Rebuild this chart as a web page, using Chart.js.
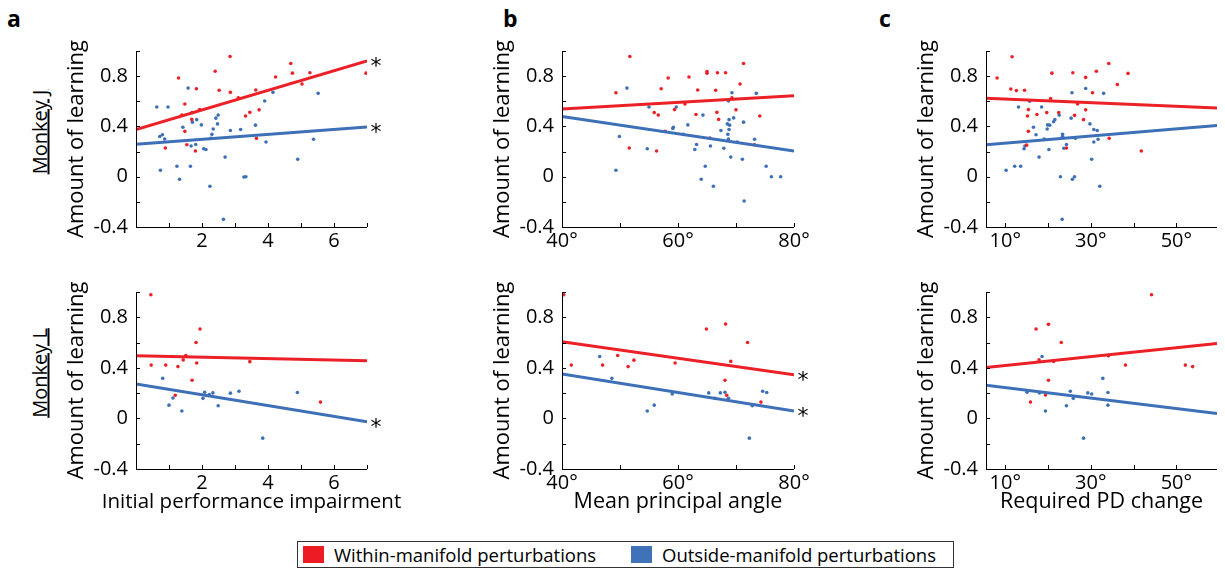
<!DOCTYPE html>
<html lang="en">
<head>
  <meta charset="UTF-8" />
  <title>Amount of learning vs. perturbation properties</title>
  <script src="https://cdn.jsdelivr.net/npm/chart.js"></script>
  <style>
    body {
      margin: 0;
      width: 1225px;
      height: 572px;
      overflow: hidden;
      background: #fff;
      position: relative;
      font-family: "Open Sans", sans-serif;
      color: #000;
    }
    canvas { position: absolute; }
    .letter {
      position: absolute;
      font: bold 23px "Open Sans", sans-serif;
      line-height: 1;
    }
    .monkey {
      position: absolute;
      font-size: 20px;
      text-decoration: underline;
      white-space: nowrap;
      transform: translate(-50%, -50%) rotate(-90deg);
    }
    #legend {
      position: absolute;
      left: 297px;
      top: 541px;
      width: 657px;
      height: 27px;
      border: 1px solid #333;
      box-sizing: border-box;
      font-size: 18.5px;
    }
    #legend span { position: absolute; }
    .sw { width: 21px; height: 17px; top: 4px; }
    .lt { top: 0px; line-height: 25px; white-space: nowrap; }
  </style>
</head>
<body>
  <div class="letter" style="left:7px; top:7px">a</div>
  <div class="letter" style="left:503px; top:7px">b</div>
  <div class="letter" style="left:879px; top:7px">c</div>
  <div class="monkey" style="left:39px; top:132px">Monkey J</div>
  <div class="monkey" style="left:39px; top:373px">Monkey L</div>

  <canvas id="aJ" width="323" height="221" style="left:64px; top:31px"></canvas>
  <canvas id="bJ" width="324" height="221" style="left:490px; top:31px"></canvas>
  <canvas id="cJ" width="311" height="221" style="left:914px; top:31px"></canvas>
  <canvas id="aL" width="353" height="242" style="left:64px; top:272px"></canvas>
  <canvas id="bL" width="324" height="242" style="left:490px; top:272px"></canvas>
  <canvas id="cL" width="311" height="242" style="left:914px; top:272px"></canvas>

  <div id="legend">
    <span class="sw" style="left:5px; background:#ed1c24"></span>
    <span class="lt" style="left:36px">Within-manifold perturbations</span>
    <span class="sw" style="left:333px; background:#3f72b8"></span>
    <span class="lt" style="left:364px">Outside-manifold perturbations</span>
  </div>

  <script>
    const RED = '#ec2027';
    const BLUE = '#3e70b7';

    // y axis shared by all panels
    const yTicks = [-0.4, -0.2, 0, 0.2, 0.4, 0.6, 0.8, 1.0];
    const yTickLabels = ['-0.4', '', '0', '', '0.4', '', '0.8', ''];

    // x axes
    const impairTicks = [0, 1, 2, 3, 4, 5, 6, 7];
    const impairLabels = ['', '', '2', '', '4', '', '6', ''];
    const angleTicks = [40, 50, 60, 70, 80];
    const angleLabels = ['40°', '', '60°', '', '80°'];
    const pdTicks = [10, 20, 30, 40, 50];
    const pdLabels = ['10°', '', '30°', '', '50°'];

    // Monkey J, initial performance impairment
    const jImpairRed = [[2.85,0.956],[1.29,0.785],[2.40,0.839],[4.69,0.90],[4.74,0.824],[4.23,0.793],[5.27,0.827],[5.03,0.737],[6.97,0.824],[1.83,0.70],[2.52,0.688],[2.86,0.671],[3.63,0.69],[3.10,0.627],[1.48,0.578],[1.93,0.534],[1.70,0.51],[1.39,0.49],[3.73,0.532],[3.45,0.512],[3.32,0.483],[1.69,0.456],[1.48,0.361],[3.65,0.305],[1.54,0.254],[0.89,0.229],[1.80,0.205]];
    const jImpairBlue = [[1.58,0.705],[0.63,0.554],[0.97,0.554],[4.15,0.671],[5.52,0.663],[3.90,0.602],[2.49,0.49],[2.42,0.466],[1.84,0.454],[1.71,0.434],[1.98,0.412],[2.47,0.42],[1.42,0.393],[2.34,0.38],[3.17,0.376],[2.86,0.368],[3.62,0.41],[2.30,0.337],[0.80,0.334],[0.72,0.32],[0.87,0.30],[2.27,0.305],[5.38,0.298],[3.94,0.276],[1.81,0.256],[1.67,0.244],[2.05,0.222],[2.12,0.217],[2.70,0.156],[4.90,0.139],[1.24,0.083],[1.65,0.083],[0.74,0.051],[1.32,-0.02],[3.27,-0.002],[3.33,0],[2.24,-0.076],[2.65,-0.339]];

    // Monkey J, mean principal angle
    const jAngleRed = [[51.7,0.956],[71.3,0.90],[49.3,0.668],[58.3,0.785],[61.9,0.793],[65.0,0.837],[65.0,0.824],[66.8,0.827],[68.2,0.827],[70.7,0.737],[57.1,0.70],[63.4,0.69],[66.5,0.688],[69.3,0.627],[61.2,0.578],[70.0,0.532],[59.4,0.534],[55.9,0.51],[66.7,0.512],[56.6,0.49],[63.1,0.495],[74.1,0.483],[67.0,0.456],[57.8,0.361],[65.5,0.307],[73.2,0.254],[51.6,0.229],[56.3,0.205]];
    const jAngleBlue = [[51.2,0.705],[69.3,0.668],[73.5,0.663],[68.7,0.602],[55.0,0.554],[59.7,0.554],[64.3,0.49],[68.8,0.454],[69.6,0.468],[71.3,0.434],[61.7,0.412],[68.5,0.42],[68.9,0.41],[59.2,0.393],[59.1,0.383],[68.8,0.376],[67.4,0.368],[68.6,0.337],[49.9,0.32],[60.9,0.337],[63.2,0.256],[68.7,0.30],[70.2,0.276],[73.2,0.298],[65.6,0.244],[54.7,0.222],[62.9,0.217],[67.9,0.227],[69.1,0.156],[71.1,0.139],[64.7,0.083],[75.2,0.083],[49.3,0.051],[64.0,-0.02],[76.1,0],[77.7,0],[66.1,-0.076],[71.4,-0.193]];

    // Monkey J, required PD change
    const jPdRed = [[11.6,0.954],[34.2,0.90],[8.1,0.785],[20.9,0.824],[25.8,0.827],[28.8,0.79],[31.3,0.839],[38.7,0.822],[36.2,0.734],[11.3,0.698],[12.6,0.685],[14.5,0.688],[30.4,0.668],[20.6,0.622],[26.9,0.578],[15.4,0.534],[28.8,0.532],[19.7,0.51],[22.5,0.51],[17.4,0.495],[15.2,0.483],[26.2,0.488],[28.3,0.454],[15.4,0.361],[34.3,0.305],[15.0,0.251],[24.3,0.229],[41.8,0.205]];
    const jPdBlue = [[28.8,0.702],[25.6,0.668],[33.0,0.663],[15.7,0.60],[13.1,0.554],[18.5,0.554],[22.6,0.49],[25.4,0.466],[21.6,0.454],[21.3,0.437],[29.8,0.42],[19.9,0.412],[20.4,0.41],[16.6,0.393],[19.8,0.38],[30.7,0.376],[31.5,0.368],[17.2,0.334],[23.4,0.337],[23.4,0.32],[19.1,0.30],[26.4,0.305],[31.7,0.298],[30.7,0.276],[24.3,0.256],[14.6,0.244],[14.4,0.222],[20.2,0.217],[23.7,0.227],[17.9,0.156],[30.2,0.139],[12.2,0.083],[13.6,0.083],[10.2,0.051],[22.9,0],[25.7,-0.02],[26.2,0],[32.1,-0.076],[23.3,-0.339]];

    // Monkey L
    const lImpairRed = [[0.45,0.978],[1.94,0.707],[1.82,0.60],[1.51,0.498],[1.43,0.463],[1.84,0.439],[3.45,0.449],[0.46,0.422],[0.90,0.422],[1.27,0.41],[1.70,0.302],[1.19,0.183],[5.59,0.129]];
    const lImpairBlue = [[0.81,0.317],[1.11,0.49],[2.08,0.207],[2.33,0.202],[2.22,0.188],[2.86,0.20],[3.12,0.215],[4.89,0.205],[2.03,0.159],[1.12,0.161],[1.00,0.105],[2.49,0.10],[1.39,0.059],[3.84,-0.156]];
    const lAngleRed = [[40.3,0.978],[68.2,0.746],[64.9,0.707],[72.0,0.60],[69.1,0.451],[49.6,0.498],[52.4,0.461],[59.5,0.439],[41.6,0.422],[47.0,0.422],[51.4,0.41],[68.1,0.302],[68.4,0.183],[74.3,0.129]];
    const lAngleBlue = [[46.5,0.49],[48.6,0.317],[59.0,0.193],[65.3,0.202],[67.3,0.202],[68.1,0.207],[66.4,0.159],[68.7,0.159],[74.6,0.215],[75.3,0.205],[72.8,0.10],[55.9,0.105],[54.7,0.059],[72.3,-0.156]];
    const lPdRed = [[44.2,0.978],[20.1,0.744],[17.2,0.707],[23.1,0.60],[17.9,0.463],[21.3,0.451],[34.1,0.495],[38.1,0.422],[52.1,0.422],[53.8,0.41],[20.1,0.302],[19.4,0.185],[15.9,0.129]];
    const lPdBlue = [[18.6,0.49],[32.8,0.317],[15.1,0.207],[18.0,0.202],[25.2,0.215],[29.3,0.202],[30.2,0.193],[34.0,0.205],[25.9,0.159],[24.3,0.10],[34.0,0.105],[19.4,0.059],[28.3,-0.156]];

    // fitted lines: [y at left edge, y at right edge]
    const jImpairRedFit = [0.376, 0.92],  jImpairBlueFit = [0.259, 0.395];
    const jAngleRedFit = [0.539, 0.644],  jAngleBlueFit = [0.48, 0.205];
    const jPdRedFit = [0.624, 0.546],     jPdBlueFit = [0.254, 0.407];
    const lImpairRedFit = [0.495, 0.456], lImpairBlueFit = [0.273, -0.027];
    const lAngleRedFit = [0.607, 0.346],  lAngleBlueFit = [0.351, 0.059];
    const lPdRedFit = [0.402, 0.593],     lPdBlueFit = [0.263, 0.039];

    // MATLAB-style axes: left and bottom lines, inward ticks, asterisks, x title
    const matlabAxes = {
      id: 'matlabAxes',
      afterDatasetsDraw(chart, args, opts) {
        const { ctx, chartArea: a, scales: { x, y } } = chart;
        ctx.save();
        ctx.strokeStyle = '#000';
        ctx.lineWidth = 1;
        ctx.beginPath();
        ctx.moveTo(a.left + 0.5, a.top);
        ctx.lineTo(a.left + 0.5, a.bottom + 0.5);
        ctx.lineTo(a.right, a.bottom + 0.5);
        y.ticks.forEach(t => {
          const py = Math.round(y.getPixelForValue(t.value)) + 0.5;
          ctx.moveTo(a.left, py); ctx.lineTo(a.left + 4, py);
        });
        x.ticks.forEach(t => {
          const px = Math.round(x.getPixelForValue(t.value)) + 0.5;
          ctx.moveTo(px, a.bottom); ctx.lineTo(px, a.bottom - 4);
        });
        ctx.stroke();
        ctx.fillStyle = '#000';
        ctx.textAlign = 'center';
        ctx.textBaseline = 'alphabetic';
        ctx.font = '22px "DejaVu Sans"';
        (opts.stars || []).forEach(v => {
          ctx.fillText('*', a.right + 9, y.getPixelForValue(v) + 12);
        });
        if (opts.xTitle) {
          ctx.font = (opts.xTitleSize || 21.5) + 'px "Open Sans"';
          ctx.textBaseline = 'middle';
          ctx.fillText(opts.xTitle, (a.left + a.right) / 2, a.bottom + 33);
        }
        ctx.restore();
      }
    };

    function makePanel(id, o) {
      const lineDs = (fit, color) => ({
        data: [{ x: o.xMin, y: fit[0] }, { x: o.xMax, y: fit[1] }],
        showLine: true, borderColor: color, borderWidth: 3, pointRadius: 0
      });
      const dotDs = (pts, color) => ({
        data: pts.map(p => ({ x: p[0], y: p[1] })),
        backgroundColor: color, borderWidth: 0, pointRadius: 1.8
      });
      new Chart(document.getElementById(id), {
        type: 'scatter',
        data: {
          datasets: [
            lineDs(o.redFit, RED), lineDs(o.blueFit, BLUE),
            dotDs(o.red, RED), dotDs(o.blue, BLUE)
          ]
        },
        options: {
          responsive: false,
          animation: false,
          layout: { padding: { top: 6, right: o.padRight, bottom: 0, left: 0 } },
          plugins: {
            legend: { display: false },
            tooltip: { enabled: false },
            matlabAxes: { stars: o.stars, xTitle: o.xTitle, xTitleSize: o.xTitleSize }
          },
          scales: {
            x: {
              type: 'linear', min: o.xMin, max: o.xMax,
              grid: { display: false, drawTicks: false },
              border: { display: false },
              afterBuildTicks: s => { s.ticks = o.xTicks.map(v => ({ value: v })); },
              afterFit: s => { s.height = o.xTitle ? 45 : 25; },
              ticks: {
                autoSkip: false, maxRotation: 0, padding: 2,
                font: { size: 20 },
                callback: (v, i) => o.xLabels[i]
              }
            },
            y: {
              min: -0.4, max: 1.0,
              grid: { display: false, drawTicks: false },
              border: { display: false },
              afterBuildTicks: s => { s.ticks = yTicks.map(v => ({ value: v })); },
              afterFit: s => { s.width = 72; },
              ticks: {
                autoSkip: false, padding: 8,
                font: { size: 20 },
                callback: (v, i) => yTickLabels[i]
              },
              title: {
                display: true, text: 'Amount of learning',
                font: { size: 22 }, padding: 0
              }
            }
          }
        },
        plugins: [matlabAxes]
      });
    }

    Chart.defaults.font.family = '"Open Sans", sans-serif';
    Chart.defaults.color = '#000';

    makePanel('aJ', { red: jImpairRed, blue: jImpairBlue, redFit: jImpairRedFit, blueFit: jImpairBlueFit,
      xMin: 0, xMax: 7, xTicks: impairTicks, xLabels: impairLabels, padRight: 20,
      stars: [jImpairRedFit[1], jImpairBlueFit[1]] });
    makePanel('bJ', { red: jAngleRed, blue: jAngleBlue, redFit: jAngleRedFit, blueFit: jAngleBlueFit,
      xMin: 40, xMax: 80, xTicks: angleTicks, xLabels: angleLabels, padRight: 20, stars: [] });
    makePanel('cJ', { red: jPdRed, blue: jPdBlue, redFit: jPdRedFit, blueFit: jPdBlueFit,
      xMin: 5.5, xMax: 59.5, xTicks: pdTicks, xLabels: pdLabels, padRight: 8, stars: [] });
    makePanel('aL', { red: lImpairRed, blue: lImpairBlue, redFit: lImpairRedFit, blueFit: lImpairBlueFit,
      xMin: 0, xMax: 7, xTicks: impairTicks, xLabels: impairLabels, padRight: 50,
      stars: [lImpairBlueFit[1]], xTitle: 'Initial performance impairment', xTitleSize: 20.5 });
    makePanel('bL', { red: lAngleRed, blue: lAngleBlue, redFit: lAngleRedFit, blueFit: lAngleBlueFit,
      xMin: 40, xMax: 80, xTicks: angleTicks, xLabels: angleLabels, padRight: 20,
      stars: [lAngleRedFit[1], lAngleBlueFit[1]], xTitle: 'Mean principal angle' });
    makePanel('cL', { red: lPdRed, blue: lPdBlue, redFit: lPdRedFit, blueFit: lPdBlueFit,
      xMin: 5.5, xMax: 59.5, xTicks: pdTicks, xLabels: pdLabels, padRight: 8,
      stars: [], xTitle: 'Required PD change' });
  </script>
</body>
</html>
